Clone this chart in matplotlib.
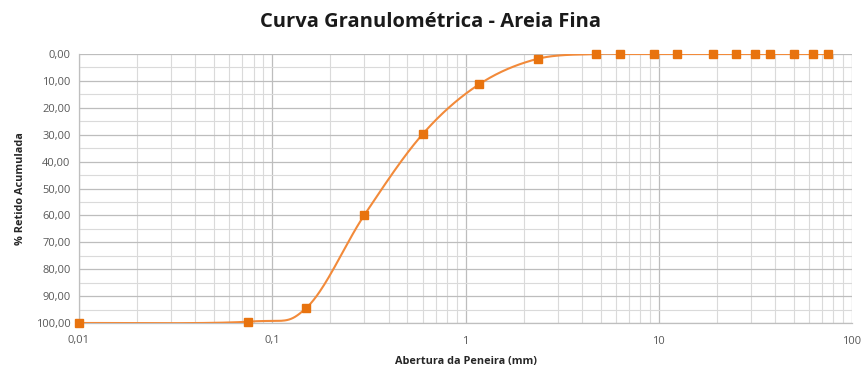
import numpy as np
import matplotlib
matplotlib.use("Agg")
import matplotlib.pyplot as plt
from matplotlib.ticker import FixedLocator, FuncFormatter, LogLocator, NullFormatter

# Sieve openings (mm) and cumulative retained percentage
abertura = [0.01, 0.075, 0.15, 0.3, 0.6, 1.18, 2.36, 4.75, 6.3, 9.5, 12.5,
            19, 25, 31.5, 37.5, 50, 63, 75]
retido = [100.0, 99.5, 94.4, 59.8, 29.8, 11.2, 1.8, 0.0, 0.0, 0.0, 0.0,
          0.0, 0.0, 0.0, 0.0, 0.0, 0.0, 0.0]

title = "Curva Granulométrica - Areia Fina"
xlabel = "Abertura da Peneira (mm)"
ylabel = "% Retido Acumulada"

plt.rcParams['font.family'] = ['Open Sans', 'DejaVu Sans']

fig = plt.figure(figsize=(8.61, 3.69), dpi=100)
ax = fig.add_axes([79 / 861, 1 - 323 / 369, (852 - 79) / 861, (323 - 54) / 369])


def smooth_curve(xs, ys, n=40):
    """Cardinal-spline smoothing in (log x, y) space, like a spreadsheet smoothed line."""
    lx = np.log10(np.asarray(xs, float))
    y = np.asarray(ys, float)
    # work in a display-like scaled space so the tangent weights are balanced
    sx, sy = 193.0, 2.69
    px, py = lx * sx, y * sy
    m = len(px)
    out_x, out_y = [], []
    for i in range(m - 1):
        p0 = (px[max(i - 1, 0)], py[max(i - 1, 0)])
        p1 = (px[i], py[i])
        p2 = (px[i + 1], py[i + 1])
        p3 = (px[min(i + 2, m - 1)], py[min(i + 2, m - 1)])
        t = 1 / 6
        c1 = (p1[0] + t * (p2[0] - p0[0]), p1[1] + t * (p2[1] - p0[1]))
        c2 = (p2[0] - t * (p3[0] - p1[0]), p2[1] - t * (p3[1] - p1[1]))
        s = np.linspace(0, 1, n)
        bx = ((1 - s) ** 3 * p1[0] + 3 * (1 - s) ** 2 * s * c1[0]
              + 3 * (1 - s) * s ** 2 * c2[0] + s ** 3 * p2[0])
        by = ((1 - s) ** 3 * p1[1] + 3 * (1 - s) ** 2 * s * c1[1]
              + 3 * (1 - s) * s ** 2 * c2[1] + s ** 3 * p2[1])
        out_x.extend(bx)
        out_y.extend(by)
    return 10 ** (np.array(out_x) / sx), np.array(out_y) / sy


cx, cy = smooth_curve(abertura, retido)
ax.plot(cx, cy, color='#F28A3A', lw=1.5, zorder=3)
ax.plot(abertura, retido, ls='none', marker='s', ms=5.6, color='#E8730E',
        mec='#E8730E', zorder=4, clip_on=False)

ax.set_xscale('log')
ax.set_xlim(0.01, 100)
ax.set_ylim(100, 0)

ax.xaxis.set_major_locator(FixedLocator([0.01, 0.1, 1, 10, 100]))
ax.xaxis.set_minor_locator(LogLocator(base=10, subs=np.arange(2, 10)))
ax.xaxis.set_minor_formatter(NullFormatter())
ax.xaxis.set_major_formatter(FuncFormatter(
    lambda v, p: {0.01: "0,01", 0.1: "0,1", 1: "1", 10: "10", 100: "100"}.get(round(v, 2), "")))

ax.yaxis.set_major_locator(FixedLocator(np.arange(0, 101, 10)))
ax.yaxis.set_minor_locator(FixedLocator(np.arange(5, 100, 10)))
ax.yaxis.set_major_formatter(FuncFormatter(lambda v, p: f"{v:.2f}".replace('.', ',')))

ax.grid(which='major', color='#BDBDBD', lw=0.9)
ax.grid(which='minor', color='#DADADA', lw=0.8)
ax.set_axisbelow(True)

for side in ['top', 'right']:
    ax.spines[side].set_visible(False)
for side in ['left', 'bottom']:
    ax.spines[side].set_color('#BFBFBF')
    ax.spines[side].set_linewidth(0.9)

ax.tick_params(which='both', length=0, colors='#595959', labelsize=8)
ax.tick_params(axis='x', pad=9)
ax.tick_params(axis='y', pad=6)

ax.set_xlabel(xlabel, fontsize=7.8, fontweight='bold', color='#262626', labelpad=7)
ax.set_ylabel(ylabel, fontsize=7.8, fontweight='bold', color='#262626', labelpad=7)
fig.text(0.5, 1 - 22 / 369, title, ha='center', va='center', fontsize=14.5,
         fontweight='bold', color='#1A1A1A')

fig.savefig('out.png', dpi=100, facecolor='white')
